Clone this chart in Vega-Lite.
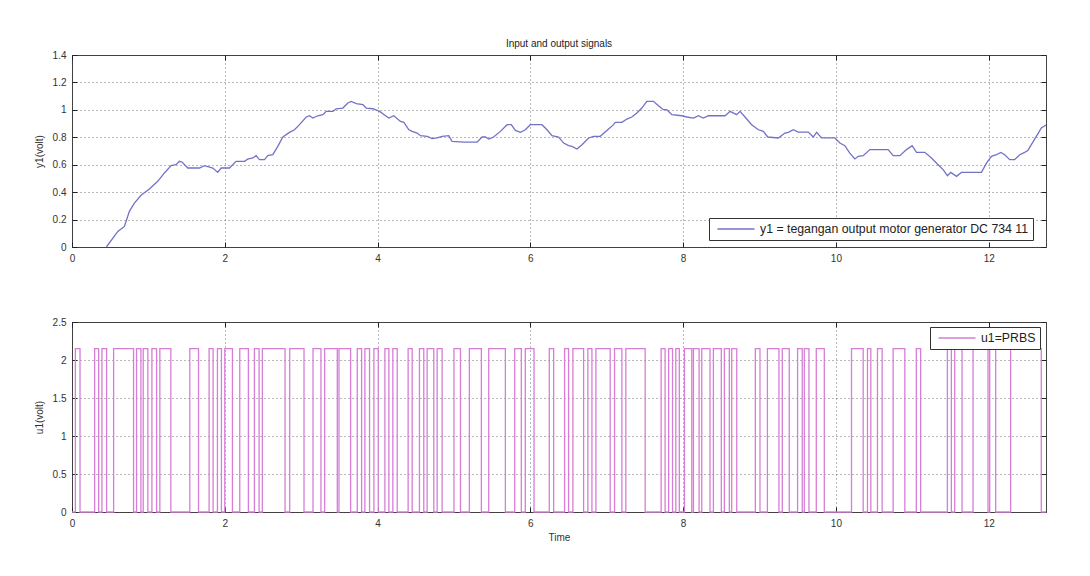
{
  "$schema": "https://vega.github.io/schema/vega-lite/v6.json",
  "background": "white",
  "padding": {"left": 33, "top": 38, "right": 10, "bottom": 10},
  "spacing": 52,
  "resolve": {"scale": {"color": "independent"}, "legend": {"color": "independent"}},
  "config": {
    "font": "Liberation Sans",
    "view": {"stroke": "#444", "strokeWidth": 1},
    "axis": {
      "labelFontSize": 10,
      "labelColor": "#333",
      "tickColor": "#222",
      "tickSize": -5,
      "labelPadding": 11,
      "domain": false,
      "grid": true,
      "gridDash": [1, 3],
      "gridColor": "#333",
      "gridOpacity": 0.7,
      "labelFlush": false,
      "labelOverlap": false,
      "titleFontSize": 10,
      "titleFontWeight": "normal",
      "titleColor": "#333"
    },
    "legend": {
      "orient": "none",
      "symbolType": "M-3,0H3",
      "symbolSize": 152,
      "symbolStrokeWidth": 1.5,
      "symbolOffset": 16,
      "labelOffset": 17,
      "labelFontSize": 12.3,
      "labelColor": "#222",
      "labelLimit": 500,
      "strokeColor": "#333",
      "fillColor": "white",
      "padding": 4
    }
  },
  "vconcat": [
    {
      "width": 974,
      "height": 192,
      "title": {"text": "Input and output signals", "fontSize": 10, "fontWeight": "normal", "color": "#222", "offset": 1},
      "data": {"values": [
        {"t":0.45,"y":0},{"t":0.6,"y":0.114},{"t":0.686,"y":0.15},{"t":0.751,"y":0.26},{"t":0.817,"y":0.32},{"t":0.904,"y":0.377},{"t":1.013,"y":0.423},{"t":1.122,"y":0.479},{"t":1.21,"y":0.54},{"t":1.297,"y":0.593},{"t":1.362,"y":0.6},{"t":1.406,"y":0.625},{"t":1.44,"y":0.62},{"t":1.515,"y":0.576},{"t":1.668,"y":0.576},{"t":1.734,"y":0.593},{"t":1.843,"y":0.576},{"t":1.908,"y":0.544},{"t":1.952,"y":0.576},{"t":2.061,"y":0.576},{"t":2.148,"y":0.625},{"t":2.258,"y":0.625},{"t":2.3,"y":0.64},{"t":2.367,"y":0.649},{"t":2.41,"y":0.666},{"t":2.454,"y":0.637},{"t":2.52,"y":0.637},{"t":2.563,"y":0.666},{"t":2.629,"y":0.673},{"t":2.694,"y":0.734},{"t":2.76,"y":0.802},{"t":2.847,"y":0.836},{"t":2.913,"y":0.855},{"t":2.978,"y":0.892},{"t":3.066,"y":0.948},{"t":3.109,"y":0.957},{"t":3.153,"y":0.94},{"t":3.218,"y":0.957},{"t":3.284,"y":0.965},{"t":3.328,"y":0.989},{"t":3.415,"y":0.989},{"t":3.459,"y":1.008},{"t":3.546,"y":1.013},{"t":3.611,"y":1.05},{"t":3.655,"y":1.062},{"t":3.721,"y":1.045},{"t":3.808,"y":1.038},{"t":3.851,"y":1.013},{"t":3.939,"y":1.008},{"t":4.026,"y":0.989},{"t":4.105,"y":0.957},{"t":4.148,"y":0.94},{"t":4.213,"y":0.957},{"t":4.3,"y":0.916},{"t":4.344,"y":0.909},{"t":4.41,"y":0.855},{"t":4.453,"y":0.843},{"t":4.518,"y":0.831},{"t":4.562,"y":0.812},{"t":4.649,"y":0.807},{"t":4.715,"y":0.79},{"t":4.78,"y":0.795},{"t":4.845,"y":0.807},{"t":4.932,"y":0.812},{"t":4.975,"y":0.77},{"t":5.128,"y":0.765},{"t":5.303,"y":0.765},{"t":5.368,"y":0.802},{"t":5.411,"y":0.802},{"t":5.455,"y":0.787},{"t":5.52,"y":0.802},{"t":5.608,"y":0.843},{"t":5.695,"y":0.892},{"t":5.751,"y":0.892},{"t":5.804,"y":0.85},{"t":5.869,"y":0.836},{"t":5.934,"y":0.855},{"t":6.0,"y":0.892},{"t":6.152,"y":0.892},{"t":6.218,"y":0.855},{"t":6.283,"y":0.812},{"t":6.37,"y":0.802},{"t":6.436,"y":0.758},{"t":6.501,"y":0.739},{"t":6.545,"y":0.734},{"t":6.61,"y":0.714},{"t":6.676,"y":0.746},{"t":6.763,"y":0.795},{"t":6.828,"y":0.807},{"t":6.915,"y":0.807},{"t":7.024,"y":0.86},{"t":7.089,"y":0.892},{"t":7.111,"y":0.909},{"t":7.198,"y":0.909},{"t":7.263,"y":0.933},{"t":7.328,"y":0.948},{"t":7.394,"y":0.977},{"t":7.459,"y":1.013},{"t":7.525,"y":1.062},{"t":7.612,"y":1.062},{"t":7.677,"y":1.03},{"t":7.742,"y":1.001},{"t":7.786,"y":1.001},{"t":7.852,"y":0.965},{"t":7.982,"y":0.957},{"t":8.048,"y":0.948},{"t":8.135,"y":0.94},{"t":8.2,"y":0.957},{"t":8.265,"y":0.94},{"t":8.33,"y":0.957},{"t":8.55,"y":0.957},{"t":8.615,"y":0.989},{"t":8.7,"y":0.965},{"t":8.745,"y":0.989},{"t":8.81,"y":0.948},{"t":8.897,"y":0.892},{"t":8.985,"y":0.855},{"t":9.05,"y":0.843},{"t":9.107,"y":0.802},{"t":9.246,"y":0.795},{"t":9.333,"y":0.831},{"t":9.376,"y":0.836},{"t":9.442,"y":0.855},{"t":9.507,"y":0.838},{"t":9.638,"y":0.838},{"t":9.703,"y":0.802},{"t":9.747,"y":0.836},{"t":9.812,"y":0.795},{"t":9.986,"y":0.795},{"t":10.052,"y":0.758},{"t":10.117,"y":0.739},{"t":10.182,"y":0.685},{"t":10.248,"y":0.642},{"t":10.292,"y":0.661},{"t":10.357,"y":0.666},{"t":10.444,"y":0.71},{"t":10.684,"y":0.71},{"t":10.749,"y":0.666},{"t":10.837,"y":0.666},{"t":10.924,"y":0.71},{"t":10.998,"y":0.739},{"t":11.055,"y":0.69},{"t":11.164,"y":0.69},{"t":11.251,"y":0.649},{"t":11.338,"y":0.6},{"t":11.403,"y":0.564},{"t":11.46,"y":0.52},{"t":11.504,"y":0.544},{"t":11.578,"y":0.515},{"t":11.643,"y":0.544},{"t":11.905,"y":0.544},{"t":11.971,"y":0.612},{"t":12.036,"y":0.661},{"t":12.101,"y":0.673},{"t":12.158,"y":0.69},{"t":12.21,"y":0.673},{"t":12.275,"y":0.637},{"t":12.34,"y":0.637},{"t":12.406,"y":0.673},{"t":12.471,"y":0.69},{"t":12.515,"y":0.705},{"t":12.558,"y":0.746},{"t":12.624,"y":0.807},{"t":12.689,"y":0.868},{"t":12.75,"y":0.89}
      ]},
      "layer": [
        {
          "mark": {"type": "line", "strokeWidth": 1.3},
          "encoding": {
            "x": {"field": "t", "type": "quantitative", "scale": {"domain": [0, 12.75], "nice": false, "zero": false},
                  "axis": {"orient": "bottom", "values": [0, 2, 4, 6, 8, 10, 12], "format": "~g", "title": null}},
            "y": {"field": "y", "type": "quantitative", "scale": {"domain": [0, 1.4], "nice": false},
                  "axis": {"orient": "left", "values": [0, 0.2, 0.4, 0.6, 0.8, 1, 1.2, 1.4], "format": "~g", "title": "y1(volt)", "titlePadding": 8}},
            "color": {"datum": "y1 = tegangan output motor generator DC 734 11", "type": "nominal",
                      "scale": {"range": ["#7272c6"]},
                      "legend": {"title": null, "legendX": 637, "legendY": 163}}
          }
        },
        {
          "mark": {"type": "point", "opacity": 0},
          "encoding": {
            "x": {"field": "t", "type": "quantitative",
                  "axis": {"orient": "top", "values": [0, 2, 4, 6, 8, 10, 12], "labels": false, "grid": false, "title": null}},
            "y": {"field": "y", "type": "quantitative",
                  "axis": {"orient": "right", "values": [0, 0.2, 0.4, 0.6, 0.8, 1, 1.2, 1.4], "labels": false, "grid": false, "title": null}}
          }
        }
      ]
    },
    {
      "width": 974,
      "height": 190,
      "data": {"values": [
        {"t":0,"u":0},
        {"t":0.044,"u":2.15},{"t":0.105,"u":0},
        {"t":0.296,"u":2.15},{"t":0.349,"u":0},
        {"t":0.392,"u":2.15},{"t":0.453,"u":0},
        {"t":0.545,"u":2.15},{"t":0.806,"u":0},
        {"t":0.845,"u":2.15},{"t":0.902,"u":0},
        {"t":0.932,"u":2.15},{"t":0.993,"u":0},
        {"t":1.046,"u":2.15},{"t":1.107,"u":0},
        {"t":1.15,"u":2.15},{"t":1.294,"u":0},
        {"t":1.542,"u":2.15},{"t":1.656,"u":0},
        {"t":1.795,"u":2.15},{"t":1.847,"u":0},
        {"t":1.904,"u":2.15},{"t":1.956,"u":0},
        {"t":2.0,"u":2.15},{"t":2.1,"u":0},
        {"t":2.196,"u":2.15},{"t":2.309,"u":0},
        {"t":2.388,"u":2.15},{"t":2.449,"u":0},
        {"t":2.492,"u":2.15},{"t":2.789,"u":0},
        {"t":2.85,"u":2.15},{"t":3.037,"u":0},
        {"t":3.155,"u":2.15},{"t":3.259,"u":0},
        {"t":3.307,"u":2.15},{"t":3.473,"u":0},
        {"t":3.495,"u":2.15},{"t":3.647,"u":0},
        {"t":3.734,"u":2.15},{"t":3.791,"u":0},
        {"t":3.834,"u":2.15},{"t":3.895,"u":0},
        {"t":3.952,"u":2.15},{"t":4.009,"u":0},
        {"t":4.096,"u":2.15},{"t":4.148,"u":0},
        {"t":4.2,"u":2.15},{"t":4.257,"u":0},
        {"t":4.4,"u":2.15},{"t":4.453,"u":0},
        {"t":4.548,"u":2.15},{"t":4.605,"u":0},
        {"t":4.649,"u":2.15},{"t":4.736,"u":0},
        {"t":4.78,"u":2.15},{"t":4.845,"u":0},
        {"t":5.0,"u":2.15},{"t":5.085,"u":0},
        {"t":5.202,"u":2.15},{"t":5.359,"u":0},
        {"t":5.455,"u":2.15},{"t":5.673,"u":0},
        {"t":5.795,"u":2.15},{"t":5.882,"u":0},
        {"t":5.934,"u":2.15},{"t":6.048,"u":0},
        {"t":6.248,"u":2.15},{"t":6.305,"u":0},
        {"t":6.448,"u":2.15},{"t":6.5,"u":0},
        {"t":6.557,"u":2.15},{"t":6.697,"u":0},
        {"t":6.753,"u":2.15},{"t":6.806,"u":0},
        {"t":6.858,"u":2.15},{"t":7.045,"u":0},
        {"t":7.102,"u":2.15},{"t":7.198,"u":0},
        {"t":7.25,"u":2.15},{"t":7.503,"u":0},
        {"t":7.712,"u":2.15},{"t":7.764,"u":0},
        {"t":7.81,"u":2.15},{"t":7.861,"u":0},
        {"t":7.904,"u":2.15},{"t":7.95,"u":0},
        {"t":8.017,"u":2.15},{"t":8.113,"u":0},
        {"t":8.135,"u":2.15},{"t":8.209,"u":0},
        {"t":8.244,"u":2.15},{"t":8.352,"u":0},
        {"t":8.396,"u":2.15},{"t":8.5,"u":0},
        {"t":8.54,"u":2.15},{"t":8.605,"u":0},
        {"t":8.636,"u":2.15},{"t":8.702,"u":0},
        {"t":8.945,"u":2.15},{"t":9.006,"u":0},
        {"t":9.103,"u":2.15},{"t":9.254,"u":0},
        {"t":9.298,"u":2.15},{"t":9.389,"u":0},
        {"t":9.498,"u":2.15},{"t":9.559,"u":0},
        {"t":9.586,"u":2.15},{"t":9.647,"u":0},
        {"t":9.743,"u":2.15},{"t":9.848,"u":0},
        {"t":10.204,"u":2.15},{"t":10.357,"u":0},
        {"t":10.413,"u":2.15},{"t":10.457,"u":0},
        {"t":10.544,"u":2.15},{"t":10.605,"u":0},
        {"t":10.749,"u":2.15},{"t":10.902,"u":0},
        {"t":11.052,"u":2.15},{"t":11.109,"u":0},
        {"t":11.459,"u":2.15},{"t":11.511,"u":0},
        {"t":11.555,"u":2.15},{"t":11.651,"u":0},
        {"t":11.795,"u":2.15},{"t":11.991,"u":0},
        {"t":12.013,"u":2.15},{"t":12.091,"u":0},
        {"t":12.287,"u":2.15},{"t":12.688,"u":0},
        {"t":12.75,"u":0}
      ]},
      "layer": [
        {
          "mark": {"type": "line", "interpolate": "step-after", "strokeWidth": 1.3},
          "encoding": {
            "x": {"field": "t", "type": "quantitative", "scale": {"domain": [0, 12.75], "nice": false, "zero": false},
                  "axis": {"orient": "bottom", "values": [0, 2, 4, 6, 8, 10, 12], "format": "~g", "title": "Time", "titlePadding": 4}},
            "y": {"field": "u", "type": "quantitative", "scale": {"domain": [0, 2.5], "nice": false},
                  "axis": {"orient": "left", "values": [0, 0.5, 1, 1.5, 2, 2.5], "format": "~g", "title": "u1(volt)", "titlePadding": 8}},
            "color": {"datum": "u1=PRBS", "type": "nominal",
                      "scale": {"range": ["#d67ed6"]},
                      "legend": {"title": null, "legendX": 858, "legendY": 5}}
          }
        },
        {
          "mark": {"type": "point", "opacity": 0},
          "encoding": {
            "x": {"field": "t", "type": "quantitative",
                  "axis": {"orient": "top", "values": [0, 2, 4, 6, 8, 10, 12], "labels": false, "grid": false, "title": null}},
            "y": {"field": "u", "type": "quantitative",
                  "axis": {"orient": "right", "values": [0, 0.5, 1, 1.5, 2, 2.5], "labels": false, "grid": false, "title": null}}
          }
        }
      ]
    }
  ]
}
